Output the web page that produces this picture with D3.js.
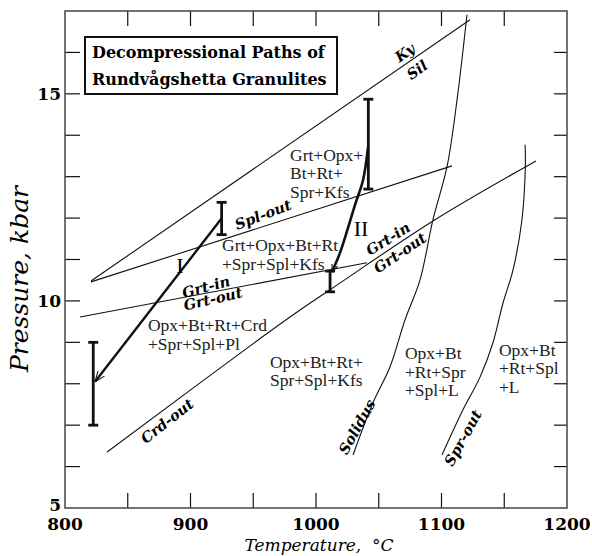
<!DOCTYPE html>
<html>
<head>
<meta charset="utf-8">
<script src="https://cdn.jsdelivr.net/npm/d3@7"></script>
<style>
  body { margin: 0; background: #fff; }
  .serif { font-family: "Liberation Serif", "Times New Roman", serif; }
  .dserif { font-family: "DejaVu Serif", "Liberation Serif", serif; }
</style>
</head>
<body>
<div id="chart"></div>
<script>
// axis labels
var xTickLabels = [800, 900, 1000, 1100, 1200];
var yTickLabels = [5, 10, 15];
var titleLines = ['Decompressional Paths of', 'Rundvågshetta Granulites'];

// reaction curves, [T (°C), P (kbar)]
var kySil = [[820.7, 10.48], [1122.7, 16.79]];
var splOut = [[820.7, 10.46], [1108.4, 13.26]];
var grtInLeft = [[812, 9.61], [1040.6, 10.92]];
var crdOut = [[833.5, 6.35], [907.6, 8.02], [987.3, 9.78], [1011.2, 10.27], [1094.8, 11.96], [1175.3, 13.38]];
var solidus = [[1029.5, 6.28], [1045.4, 7.54], [1059.0, 8.41], [1070.9, 9.54], [1082.9, 10.51],
               [1093.2, 11.96], [1104.4, 13.24], [1112.4, 14.86], [1120.3, 16.91]];
var sprOut = [[1100.4, 6.28], [1117.1, 7.37], [1130.7, 8.16], [1141.0, 8.99], [1149.0, 9.95],
              [1157.0, 10.75], [1164.1, 11.96], [1166.8, 13.24], [1166.6, 13.77]];

// decompression paths
var pathI = [[925, 12.0], [823.9, 8.05]];
var pathII = [[1041.4, 13.70], [1037.5, 12.92], [1031.1, 12.32], [1019.1, 11.16], [1012.7, 10.70]];

// error bars: T, low P, high P
var errorBars = [[822.5, 7.0, 9.0], [924.8, 11.6, 12.38], [1011.2, 10.22, 10.72], [1041.7, 12.7, 14.87]];

// labels along curves: text, T, P, angle
var curveLabels = [
  ['Ky', 1070.9, 15.99, -35], ['Sil', 1080.5, 15.58, -35],
  ['Spl-out', 957.8, 12.08, -21],
  ['Grt-in', 1057.4, 11.50, -32], ['Grt-out', 1066.9, 11.16, -34],
  ['Grt-in', 912.4, 10.34, -15], ['Grt-out', 917.9, 10.05, -13],
  ['Crd-out', 881.3, 7.10, -38],
  ['Solidus', 1032.7, 6.96, -61], ['Spr-out', 1117.1, 6.69, -61]
];
var pathLabels = [['I', 891.6, 10.87], ['II', 1035.9, 11.76]];

// assemblage fields: lines, T, P of first line
var fieldLabels = [
  [['Grt+Opx+', 'Bt+Rt+', 'Spr+Kfs'], 979.3, 13.53],
  [['Grt+Opx+Bt+Rt', '+Spr+Spl+Kfs'], 925.1, 11.35],
  [['Opx+Bt+Rt+Crd', '+Spr+Spl+Pl'], 866.1, 9.42],
  [['Opx+Bt+Rt+', 'Spr+Spl+Kfs'], 963.3, 8.53],
  [['Opx+Bt', '+Rt+Spr', '+Spl+L'], 1070.9, 8.74],
  [['Opx+Bt', '+Rt+Spl', '+L'], 1145.8, 8.82]
];

var width = 592, height = 556,
    margin = {top: 11, right: 25, bottom: 48, left: 65};

var svg = d3.select('#chart').append('svg')
    .attr('width', width)
    .attr('height', height);

var x = d3.scaleLinear().domain([800, 1200]).range([margin.left, width - margin.right]);
var y = d3.scaleLinear().domain([5, 17]).range([height - margin.bottom, margin.top]);

var x0 = x.range()[0], x1 = x.range()[1], y0 = y.range()[0], y1 = y.range()[1];
var tickLen = 15;

// ticks on all four sides, pointing inward
var g = svg.append('g');
d3.range(850, 1200, 50).forEach(function(t) {
  g.append('line').attr('x1', x(t)).attr('x2', x(t)).attr('y1', y0).attr('y2', y0 - tickLen);
  g.append('line').attr('x1', x(t)).attr('x2', x(t)).attr('y1', y1).attr('y2', y1 + tickLen);
});
d3.range(6, 17).forEach(function(p) {
  g.append('line').attr('x1', x0).attr('x2', x0 + tickLen).attr('y1', y(p)).attr('y2', y(p));
  g.append('line').attr('x1', x1).attr('x2', x1 - 13).attr('y1', y(p)).attr('y2', y(p));
});
g.selectAll('line').attr('stroke', '#111').attr('stroke-width', 1.2);

svg.append('rect')
    .attr('x', x0).attr('y', y1)
    .attr('width', x1 - x0).attr('height', y0 - y1)
    .attr('fill', 'none').attr('stroke', '#444').attr('stroke-width', 1.5);

svg.selectAll('.xlab').data(xTickLabels).enter().append('text')
    .attr('class', 'dserif')
    .attr('x', function(d) { return x(d); })
    .attr('y', y0 + 22)
    .attr('text-anchor', 'middle')
    .attr('font-size', 17).attr('font-weight', 'bold')
    .text(function(d) { return d; });

svg.selectAll('.ylab').data(yTickLabels).enter().append('text')
    .attr('class', 'dserif')
    .attr('x', x0 - 4)
    .attr('y', function(d) { return y(d) - (d === 5 ? 3 : 0); })
    .attr('dy', '0.36em')
    .attr('text-anchor', 'end')
    .attr('font-size', 17).attr('font-weight', 'bold')
    .text(function(d) { return d; });

svg.append('text')
    .attr('class', 'dserif')
    .attr('x', (x0 + x1) / 2 + 3)
    .attr('y', height - 5)
    .attr('text-anchor', 'middle')
    .attr('font-size', 17).attr('font-style', 'italic')
    .text('Temperature,\u00a0\u00a0°C');

svg.append('text')
    .attr('class', 'dserif')
    .attr('transform', 'translate(28,' + 279 + ') rotate(-90)')
    .attr('text-anchor', 'middle')
    .attr('font-size', 25).attr('font-style', 'italic')
    .text('Pressure,\u00a0kbar');

// title box
svg.append('rect')
    .attr('x', 85).attr('y', 37).attr('width', 252).attr('height', 57)
    .attr('fill', '#fff').attr('stroke', '#111').attr('stroke-width', 2);
svg.selectAll('.title').data(titleLines).enter().append('text')
    .attr('class', 'dserif')
    .attr('x', 92)
    .attr('y', function(d, i) { return 58 + i * 27; })
    .attr('font-size', 16).attr('font-weight', 'bold')
    .text(function(d) { return d; });

// reaction curves
function lineGen(curve) {
  return d3.line()
      .x(function(d) { return x(d[0]); })
      .y(function(d) { return y(d[1]); })
      .curve(curve);
}
var straight = lineGen(d3.curveLinear);
var smoothX = lineGen(d3.curveMonotoneX);
var smooth = lineGen(d3.curveCatmullRom);

[[kySil, straight], [splOut, straight], [grtInLeft, straight], [crdOut, smoothX], [solidus, smooth], [sprOut, smooth]]
  .forEach(function(c) {
    svg.append('path')
        .attr('d', c[1](c[0]))
        .attr('fill', 'none').attr('stroke', '#111').attr('stroke-width', 1.1);
  });

// error bars
errorBars.forEach(function(b) {
  var bg = svg.append('g').attr('stroke', '#111').attr('stroke-width', 2.8);
  bg.append('line').attr('x1', x(b[0])).attr('x2', x(b[0])).attr('y1', y(b[1])).attr('y2', y(b[2]));
  bg.append('line').attr('x1', x(b[0]) - 5).attr('x2', x(b[0]) + 5).attr('y1', y(b[1])).attr('y2', y(b[1]));
  bg.append('line').attr('x1', x(b[0]) - 5).attr('x2', x(b[0]) + 5).attr('y1', y(b[2])).attr('y2', y(b[2]));
});

// decompression paths with open arrowheads
function arrowHead(pts, size) {
  var a = pts[pts.length - 2], b = pts[pts.length - 1];
  var ang = Math.atan2(y(b[1]) - y(a[1]), x(b[0]) - x(a[0]));
  var bx = x(b[0]), by = y(b[1]);
  [-0.38, 0.38].forEach(function(da) {
    svg.append('line')
        .attr('x1', bx).attr('y1', by)
        .attr('x2', bx - size * Math.cos(ang + da))
        .attr('y2', by - size * Math.sin(ang + da))
        .attr('stroke', '#111').attr('stroke-width', 1.1);
  });
}
svg.append('path').attr('d', straight(pathI))
    .attr('fill', 'none').attr('stroke', '#111').attr('stroke-width', 2.4);
arrowHead(pathI, 11);
svg.append('path').attr('d', smooth(pathII))
    .attr('fill', 'none').attr('stroke', '#111').attr('stroke-width', 2.6);
arrowHead(pathII, 8);

// curve labels
curveLabels.forEach(function(l) {
  svg.append('text')
      .attr('class', 'dserif')
      .attr('transform', 'translate(' + x(l[1]) + ',' + y(l[2]) + ') rotate(' + l[3] + ')')
      .attr('text-anchor', 'middle')
      .attr('dy', '0.35em')
      .attr('font-size', 14.5).attr('font-weight', 'bold').attr('font-style', 'italic')
      .text(l[0]);
});

pathLabels.forEach(function(l) {
  svg.append('text')
      .attr('class', 'serif')
      .attr('x', x(l[1])).attr('y', y(l[2]))
      .attr('text-anchor', 'middle')
      .attr('dy', '0.35em')
      .attr('font-size', 22)
      .text(l[0]);
});

fieldLabels.forEach(function(f) {
  var t = svg.append('text')
      .attr('class', 'serif')
      .attr('x', x(f[1])).attr('y', y(f[2]))
      .attr('font-size', 17.5)
      .attr('fill', '#222');
  f[0].forEach(function(s, i) {
    t.append('tspan')
        .attr('x', x(f[1]))
        .attr('y', y(f[2]) + i * 18.5)
        .attr('dy', '0.35em')
        .text(s);
  });
});
</script>
</body>
</html>
